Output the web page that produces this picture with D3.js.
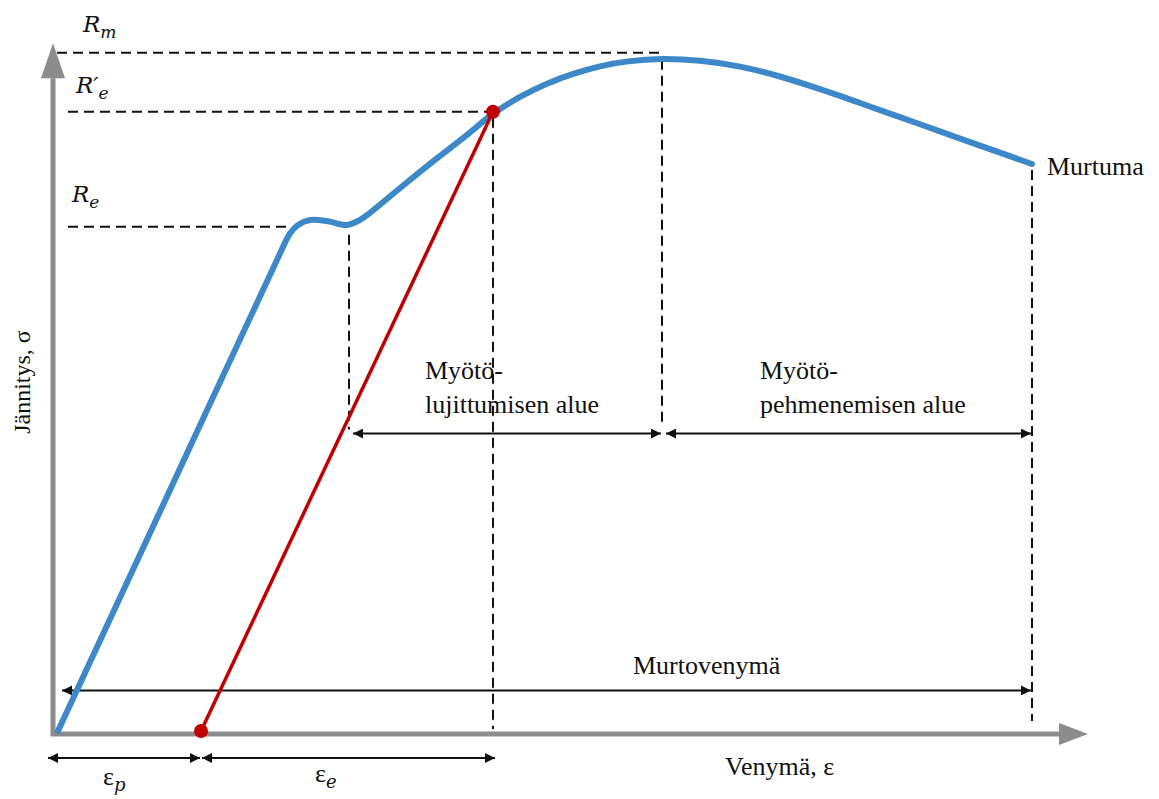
<!DOCTYPE html>
<html>
<head>
<meta charset="utf-8">
<script src="https://cdn.jsdelivr.net/npm/d3@7"></script>
<style>
  body { margin: 0; background: #fff; }
  text { font-family: "Liberation Serif", "Times New Roman", serif; fill: #111; }
  .sym { font-family: "DejaVu Serif", serif; font-style: italic; }
</style>
</head>
<body>
<div id="graf"></div>
<script>
// Venymä (%) ja jännitys (MPa), luettu kuvasta
var venyma   = [0, 3, 5.5, 5.8, 6.0, 6.3, 6.75, 7.22, 7.55, 7.8, 8.63, 9.47, 10.25, 10.875, 11.55, 12.225, 12.9, 13.575, 14.25, 15.1, 16.05, 17.05, 18.05, 19.05, 20.05, 21.05, 22.05, 23.05, 24.35]
var jannitys = [0, 191, 350, 368, 374.3, 378, 377, 374.3, 378, 383.3, 403.5, 423.5, 441.5, 456.5, 469, 478.8, 486.2, 491.8, 495.3, 497, 495.7, 491.4, 484.1, 474.7, 464.5, 454, 443.5, 433, 419.4]

// Tunnusarvot
var Re = 373, ReP = 458, Rm = 498
var epsP = 3.575, epsRe = 7.275, epsReP = 10.875, epsRm = 15.1, epsMurtuma = 24.35
var xMax = 25.75, yMax = 505

// Nuolten tasot (jännitys-yksiköissä)
var alueTaso = 220, murtoTaso = 30, epsTaso = -20

var alueet = [
  { alku: epsRe, loppu: epsRm, rivit: ['Myötö-', 'lujittumisen alue'], tx: 425 },
  { alku: epsRm, loppu: epsMurtuma, rivit: ['Myötö-', 'pehmenemisen alue'], tx: 760 }
]

var ancho_total = 1159, alto_total = 799

var svg = d3.select('#graf').append('svg')
  .attr('width', ancho_total)
  .attr('height', alto_total)

var x = d3.scaleLinear().domain([0, 26]).range([58, 1098])
var y = d3.scaleLinear().domain([0, 500]).range([731, 55])

// nuolenkärki
var defs = svg.append('defs')
defs.append('marker')
  .attr('id', 'kärki')
  .attr('viewBox', '0 0 10 10')
  .attr('refX', 10).attr('refY', 5)
  .attr('markerWidth', 5).attr('markerHeight', 5)
  .attr('orient', 'auto-start-reverse')
  .append('path')
  .attr('d', 'M0,0 L10,5 L0,10 z')
  .attr('fill', '#111')

// Akselit
var harmaa = '#8c8c8c'
var ax0 = x(0) - 5, ay0 = y(0) + 3
svg.append('line')
  .attr('x1', ax0).attr('y1', ay0 + 2)
  .attr('x2', ax0).attr('y2', y(yMax) + 30)
  .attr('stroke', harmaa).attr('stroke-width', 5)
svg.append('path')
  .attr('d', `M${ax0},${y(yMax) - 5} L${ax0 - 12},${y(yMax) + 30} L${ax0 + 12},${y(yMax) + 30} Z`)
  .attr('fill', harmaa)
svg.append('line')
  .attr('x1', ax0 - 2).attr('y1', ay0)
  .attr('x2', x(xMax) - 27).attr('y2', ay0)
  .attr('stroke', harmaa).attr('stroke-width', 5)
svg.append('path')
  .attr('d', `M${x(xMax)},${ay0} L${x(xMax) - 29},${ay0 - 11} L${x(xMax) - 29},${ay0 + 11} Z`)
  .attr('fill', harmaa)

// Katkoviivat
function katko(x1, y1, x2, y2) {
  svg.append('line')
    .attr('x1', x1).attr('y1', y1).attr('x2', x2).attr('y2', y2)
    .attr('stroke', '#111').attr('stroke-width', 2)
    .attr('stroke-dasharray', '10,6')
}
katko(x(0) - 1, y(Rm) - 5, x(epsRm), y(Rm) - 5)
katko(x(0) + 10, y(ReP), x(epsReP), y(ReP))
katko(x(0) + 10, y(Re), x(5.7), y(Re))
katko(x(epsRm), y(Rm) + 2, x(epsRm), y(alueTaso) - 8)
katko(x(epsReP), y(ReP) + 6, x(epsReP), y(0) - 2)
katko(x(epsRe), y(Re) + 8, x(epsRe), y(alueTaso) - 4)
katko(x(epsMurtuma), y(jannitys[jannitys.length - 1]) + 6, x(epsMurtuma), y(0) - 10)

// Kaksipäiset nuolet
function nuoli(x1, x2, yy) {
  svg.append('line')
    .attr('x1', x1).attr('y1', yy).attr('x2', x2).attr('y2', yy)
    .attr('stroke', '#111').attr('stroke-width', 2)
    .attr('marker-start', 'url(#kärki)')
    .attr('marker-end', 'url(#kärki)')
}
alueet.forEach(a => nuoli(x(a.alku) + 4, x(a.loppu) - 1, y(alueTaso)))
nuoli(x(0) + 4, x(epsMurtuma) - 1, y(murtoTaso))
nuoli(x(0) - 10, x(epsP) - 1, y(epsTaso))
nuoli(x(epsP) + 1, x(epsReP) + 2, y(epsTaso))

// Jännitys-venymäkäyrä
var data = venyma.map((v, i) => ({ v: v, s: jannitys[i] }))
var lineaGen = d3.line()
  .x(d => x(d.v))
  .y(d => y(d.s))
  .curve(d3.curveCatmullRom.alpha(0.5))
svg.append('path')
  .attr('d', lineaGen(data))
  .attr('fill', 'none')
  .attr('stroke', '#3d88c9')
  .attr('stroke-width', 6)
  .attr('stroke-linecap', 'round')

// Kimmoinen palautuma
var punainen = '#c00000'
svg.append('line')
  .attr('x1', x(epsP)).attr('y1', y(0))
  .attr('x2', x(epsReP)).attr('y2', y(ReP))
  .attr('stroke', punainen).attr('stroke-width', 3.5)
svg.selectAll('circle.piste')
  .data([[epsP, 0], [epsReP, ReP]])
  .enter().append('circle')
  .attr('class', 'piste')
  .attr('cx', d => x(d[0])).attr('cy', d => y(d[1]))
  .attr('r', 7)
  .attr('fill', punainen)

// Symbolit
function symboli(tx, ty, paa, ala, koko) {
  var t = svg.append('text').attr('class', 'sym')
    .attr('x', tx).attr('y', ty)
    .attr('font-size', koko)
  t.append('tspan').text(paa)
  t.append('tspan').attr('dy', 6).attr('font-size', 17).text(ala)
}
symboli(83, 32, 'R', 'm', 23)
symboli(76, 93, 'R′', 'e', 23)
symboli(72, 202, 'R', 'e', 23)

function eps(tx, ty, ala) {
  var t = svg.append('text')
    .attr('x', tx).attr('y', ty)
    .attr('font-family', 'DejaVu Serif').attr('font-size', 26)
  t.append('tspan').text('ε')
  t.append('tspan').attr('class', 'sym').attr('dy', 6).attr('font-size', 18).text(ala)
}
eps(103, 785, 'p')
eps(315, 782, 'e')

// Tekstit
svg.append('text').attr('x', x(epsMurtuma) + 15).attr('y', 175)
  .attr('font-size', 26).text('Murtuma')
svg.append('text').attr('x', 633).attr('y', 674)
  .attr('font-size', 26).text('Murtovenymä')
svg.append('text').attr('x', 725).attr('y', 775)
  .attr('font-size', 26).text('Venymä, ε')
svg.append('text')
  .attr('transform', 'translate(30, 382) rotate(-90)')
  .attr('text-anchor', 'middle')
  .attr('font-size', 24).text('Jännitys, σ')

alueet.forEach(a => {
  var t = svg.append('text').attr('font-size', 26)
  a.rivit.forEach((r, i) => {
    t.append('tspan').attr('x', a.tx).attr('y', 379 + i * 34).text(r)
  })
})
</script>
</body>
</html>
